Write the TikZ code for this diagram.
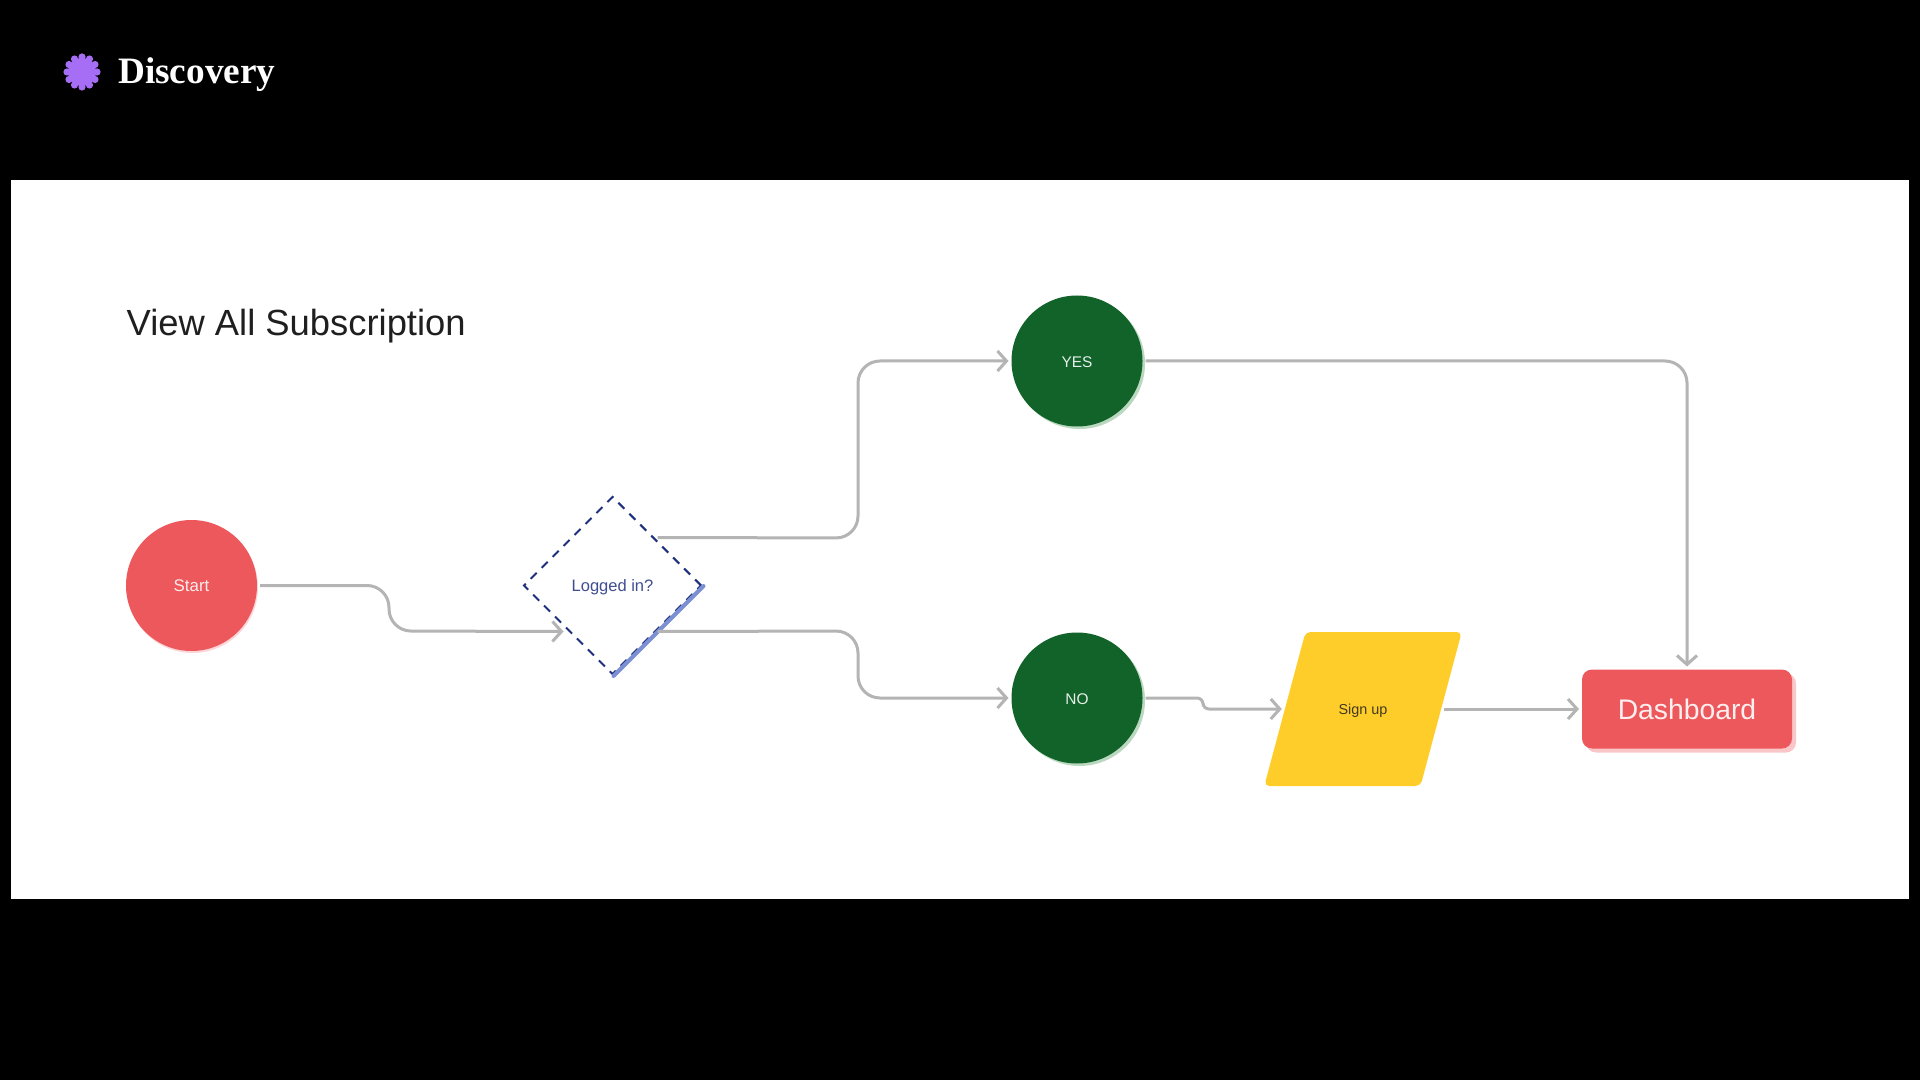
\documentclass[tikz,border=0pt]{standalone}
\usepackage{fontspec}
\setmainfont{Liberation Serif}
\setsansfont{Liberation Sans}
\usetikzlibrary{arrows.meta,calc,shadows,shapes.geometric}
\definecolor{ink}{HTML}{1F1F1F}
\definecolor{wire}{HTML}{B4B4B4}
\definecolor{coral}{HTML}{EC585C}
\definecolor{coralshade}{HTML}{FBC6C8}
\definecolor{forest}{HTML}{116329}
\definecolor{forestshade}{HTML}{A9CFAF}
\definecolor{sun}{HTML}{FFCD29}
\definecolor{navy}{HTML}{1E2F7E}
\definecolor{navyshade}{HTML}{7B8FD3}
\definecolor{petal}{HTML}{A56EF5}
\newcommand{\px}[1]{\fontsize{#1}{#1}\selectfont}
\tikzset{
 every node/.append style={font=\sffamily,align=center,inner sep=0pt},
 round/.style={circle,minimum size=1.31cm,outer sep=.03cm},
 startnode/.style={round,fill=coral,text=white!88!coral,font=\sffamily\px{4.8},drop shadow={shadow xshift=.01cm,shadow yshift=-.02cm,fill=coralshade,opacity=.7}},
 answer/.style={round,fill=forest,text=white!90!forest,text height=.13cm,text depth=0pt,font=\sffamily\px{4.4},drop shadow={shadow xshift=.025cm,shadow yshift=-.025cm,fill=forestshade,opacity=.8}},
 decision/.style={diamond,aspect=1,minimum size=1.78cm,draw=navy,line width=.02cm,dash pattern=on .085cm off .07cm,text=navy!85!white,text height=.125cm,text depth=0pt,font=\sffamily\px{4.7}},
 edgeshade/.style={draw=navyshade,line width=.04cm,line cap=round},
 entry/.style={trapezium,trapezium left angle=75,trapezium right angle=105,trapezium stretches body=true,minimum width=1.975cm,inner ysep=.72cm,text height=.1cm,text depth=0pt,fill=sun,rounded corners=.05cm,outer sep=.03cm,text=ink!85!sun,font=\sffamily\px{4.1}},
 screen/.style={rectangle,minimum width=2.1cm,minimum height=.79cm,rounded corners=.1cm,fill=coral,outer sep=.03cm,text=white!90!coral,text height=.21cm,text depth=0pt,font=\sffamily\px{8.05},drop shadow={shadow xshift=.04cm,shadow yshift=-.04cm,fill=coralshade,opacity=1}},
 link/.style={-{Straight Barb[length=.09cm,width=.2cm]},draw=wire,line width=.03cm,rounded corners=.22cm},
}

\begin{document}
\begin{tikzpicture}

\useasboundingbox (0,0) rectangle (19.2,-10.8);
\fill[black] (0,0) rectangle (19.2,-10.8);
\fill[white] (.11,-1.8) rectangle (19.09,-8.99);
% logo
\foreach \a in {0,30,...,330} \fill[petal] (.82,-.72)++(\a:.15) circle (.036);
\fill[petal] (.82,-.72) circle (.14);
\node[anchor=base west,text=white,font=\rmfamily\bfseries\px{10.6}] (brand) at (1.175,-.84) {Discovery};
\node[anchor=base west,text=ink,font=\sffamily\px{10.35}] (heading) at (1.26,-3.36) {View All Subscription};

\node[startnode] (start) at (1.915,-5.855) {Start};
\node[decision] (logged) at (6.125,-5.855) {Logged in?};
\draw[edgeshade] ([shift={(.01,-.005)}]logged.east) -- ([shift={(.01,-.005)}]logged.south);
\node[answer] (yes) at (10.77,-3.61) {YES};
\node[answer] (no) at (10.77,-6.98) {NO};
\node[entry] (signup) at (13.63,-7.09) {Sign up};
\node[screen] (dash) at (16.87,-7.09) {Dashboard};

\coordinate (bendStart) at (3.89,-6.31);
\coordinate (bendYes) at (8.58,-5.38);
\coordinate (bendNo) at (8.58,-6.31);
\coordinate (bendSign) at (12.03,-7.09);
\draw[link] (start.east) -| (bendStart) -- ([shift={(-.04,-.01)}]logged.south west);
\draw[link] ([yshift=.03cm]logged.north east) -- (bendYes) |- (yes.west);
\draw[link] ([yshift=-.01cm]logged.south east) -- (bendNo) |- (no.west);
\draw[link] (yes.east) -| (dash.north);
\draw[link,rounded corners=.06cm] (no.east) -| (bendSign) -- (signup.left side);
\draw[link] (signup.right side) -- (dash.west);

\end{tikzpicture}
\end{document}
